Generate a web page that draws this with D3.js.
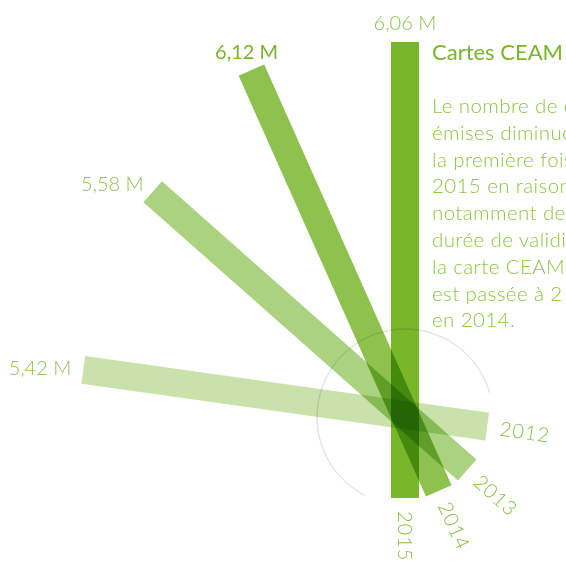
<!DOCTYPE html>
<html>
<head>
<meta charset="utf-8">
<script src="https://cdn.jsdelivr.net/npm/d3@7"></script>
<style>
  body { margin: 0; background: #fff; }
  svg { display: block; font-family: Lato, "Open Sans", sans-serif; }
</style>
</head>
<body>
<div id="chart"></div>
<script>
// données
var years = ["2012", "2013", "2014", "2015"];
var values = [5.42, 5.58, 6.12, 6.06];
var valueLabels = ["5,42 M", "5,58 M", "6,12 M", "6,06 M"];
var angles = [82, 48.5, 24, 0]; // degrés depuis la verticale
var barColors = ["#c9e2ab", "#aad27f", "#8fc14f", "#7ab62a"];

var title = "Cartes CEAM";
var bodyLines = [
  "Le nombre de cartes",
  "émises diminue pour",
  "la première fois en",
  "2015 en raison",
  "notamment de la",
  "durée de validité de",
  "la carte CEAM qui",
  "est passée à 2 ans",
  "en 2014."
];

var width = 566, height = 561;
var pivot = [405, 415];
var inner = 83, barW = 28;

var svg = d3.select("#chart").append("svg")
  .attr("width", width)
  .attr("height", height);

svg.append("rect").attr("width", width).attr("height", height).attr("fill", "#fff");

var len = d3.scaleLinear()
  .domain([0, d3.max(values)])
  .range([0, 6.12 * 75.25]);

var data = years.map(function(y, i) {
  return { year: y, value: values[i], label: valueLabels[i], angle: angles[i], color: barColors[i] };
});

// cercle
var arc = d3.arc()
  .innerRadius(88).outerRadius(88)
  .startAngle(-153 * Math.PI / 180)
  .endAngle(74 * Math.PI / 180);

svg.append("path")
  .attr("transform", "translate(" + pivot[0] + "," + (pivot[1] + 2) + ")")
  .attr("d", arc())
  .attr("fill", "none")
  .attr("stroke", "#e2e2e2")
  .attr("stroke-width", 1);

var bars = svg.selectAll(".bar")
  .data(data)
  .enter().append("g")
    .attr("class", "bar")
    .attr("transform", function(d) { return "translate(" + pivot[0] + "," + pivot[1] + ") rotate(" + (-d.angle) + ")"; });

bars.append("rect")
  .attr("x", -barW / 2)
  .attr("y", function(d) { return inner - len(d.value); })
  .attr("width", barW)
  .attr("height", function(d) { return len(d.value); })
  .attr("fill", function(d) { return d.color; })
  .style("mix-blend-mode", "multiply");

bars.append("text")
  .attr("transform", "translate(0," + (inner + 13) + ") rotate(90)")
  .attr("dy", "0.36em")
  .attr("font-size", 20)
  .attr("font-weight", 300)
  .attr("letter-spacing", 1)
  .attr("fill", "#86c048")
  .text(function(d) { return d.year; });

// étiquettes des valeurs
svg.selectAll(".val")
  .data(data)
  .enter().append("text")
    .attr("class", "val")
    .each(function(d) {
      var a = d.angle * Math.PI / 180;
      var r = len(d.value) - inner + 12;
      var x = pivot[0] - Math.sin(a) * r;
      var y = pivot[1] - Math.cos(a) * r;
      d3.select(this)
        .attr("x", x)
        .attr("y", y)
        .attr("text-anchor", d.angle < 30 ? "middle" : "end")
        .attr("dy", d.angle < 30 ? "0" : "0.36em");
    })
    .attr("font-size", 20)
    .attr("font-weight", function(d) { return d.value === d3.max(values) ? 400 : 300; })
    .attr("fill", function(d) { return d.value === d3.max(values) ? "#78b52a" : "#8cc352"; })
    .text(function(d) { return d.label; });

// texte
svg.append("text")
  .attr("x", 432)
  .attr("y", 60)
  .attr("font-size", 22)
  .attr("font-weight", 400)
  .attr("fill", "#78b52a")
  .text(title);

svg.append("g").selectAll("text")
  .data(bodyLines)
  .enter().append("text")
    .attr("x", 432)
    .attr("y", function(d, i) { return 113 + i * 26.8; })
    .attr("font-size", 20.5)
    .attr("font-weight", 300)
    .attr("letter-spacing", 0.4)
    .attr("fill", "#8cc63f")
    .text(function(d) { return d; });
</script>
</body>
</html>
